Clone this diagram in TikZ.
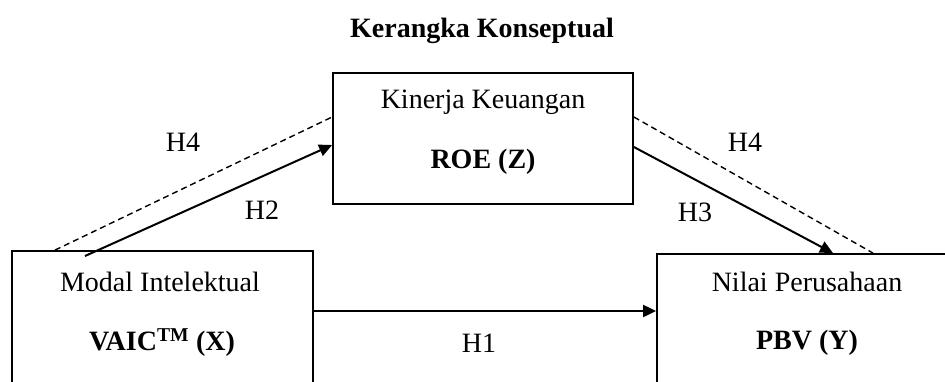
\documentclass[tikz,border=0pt]{standalone}
\usepackage{fontspec}
\setmainfont{Liberation Serif}
\usetikzlibrary{arrows.meta}
\begin{document}
\begin{tikzpicture}[x=1pt,y=-1pt,
  box/.style={draw,line width=1.8pt,rectangle,inner sep=0pt},
  lbl/.style={font=\fontsize{28}{33}\selectfont,inner sep=0pt},
  blbl/.style={font=\fontsize{28}{33}\selectfont\bfseries,inner sep=0pt},
  arr/.style={line width=2pt,-{Triangle[length=13pt,width=12pt]}},
  dsh/.style={line width=1.4pt,dash pattern=on 6pt off 4pt}]
\useasboundingbox (0,0) rectangle (945,381);
\clip (0,0) rectangle (945,381);
% title
\node[blbl] (title) at (482,31) {Kerangka Konseptual};
% boxes
\node[box,minimum width=301pt,minimum height=189pt] (lbox) at (162.5,345.5) {};
\node[box,minimum width=323pt,minimum height=186pt] (rbox) at (818.5,347) {};
\node[box,minimum width=300pt,minimum height=131pt] (mbox) at (483,138.5) {};
% texts
\node[lbl] (mt1) at (483,102) {Kinerja Keuangan};
\node[blbl] (mt2) at (483,162) {ROE (Z)};
\node[lbl] (lt1) at (160,282) {Modal Intelektual};
\node[blbl] (lt2) at (162,343) {VAIC\textsuperscript{TM} (X)};
\node[lbl] (rt1) at (807,282) {Nilai Perusahaan};
\node[blbl] (rt2) at (807,343) {PBV (Y)};
% connector coordinates
\coordinate (h1s) at (lbox.east |- 0,311);
\coordinate (h1e) at (rbox.west |- 0,311);
\coordinate (h2s) at (85,256);
\coordinate (h2e) at (mbox.west |- 0,145);
\coordinate (h3s) at (mbox.east |- 0,147);
\coordinate (h3e) at (833,0 |- rbox.north);
\coordinate (d1s) at (55,0 |- lbox.north);
\coordinate (d1e) at (mbox.west |- 0,117);
\coordinate (d2s) at (mbox.east |- 0,117);
\coordinate (d2e) at (873,0 |- rbox.north);
% connectors
\draw[arr] (h1s) -- (h1e);
\draw[arr] (h2s) -- (h2e);
\draw[arr] (h3s) -- (h3e);
\draw[dsh] (d1s) -- (d1e);
\draw[dsh] (d2s) -- (d2e);
% labels
\node[lbl] (lh1) at (479,343) {H1};
\node[lbl] (lh2) at (262,210) {H2};
\node[lbl] (lh3) at (695,212) {H3};
\node[lbl] (lh4a) at (183,142) {H4};
\node[lbl] (lh4b) at (745,142) {H4};
\end{tikzpicture}
\end{document}
